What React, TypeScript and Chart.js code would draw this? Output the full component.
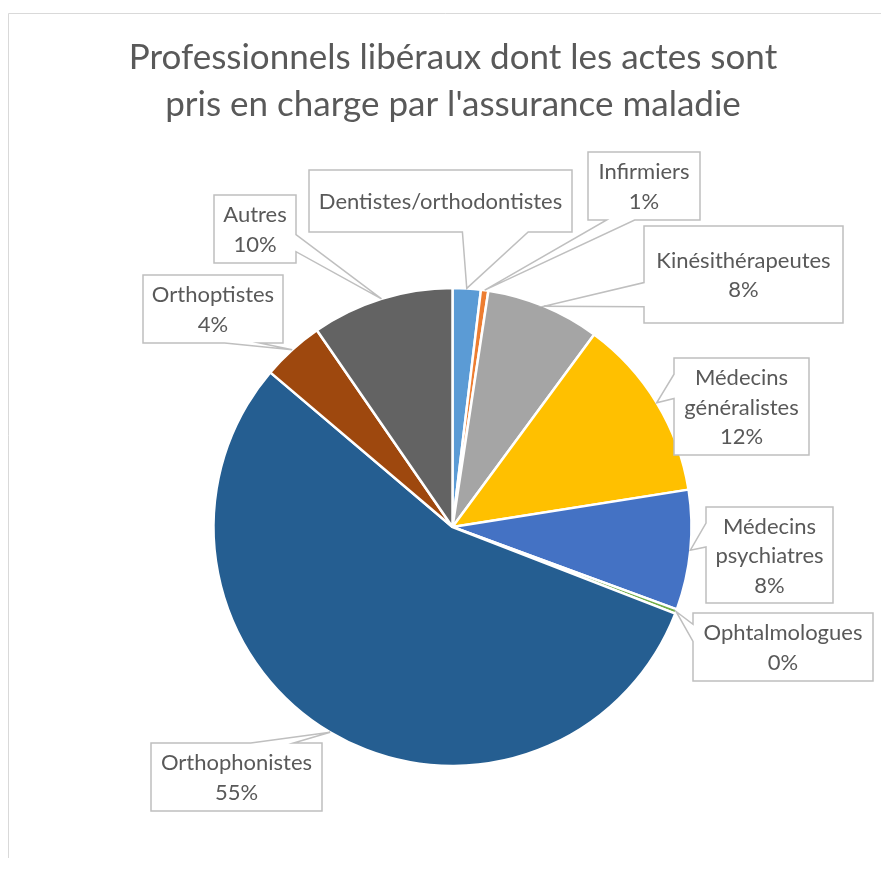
import { useEffect, useRef } from "react";
import { Chart, ArcElement, PieController } from "chart.js";

Chart.register(ArcElement, PieController);

const titleLines = ["Professionnels libéraux dont les actes sont", "pris en charge par l'assurance maladie"];
const categories = [
  "Dentistes/orthodontistes",
  "Infirmiers",
  "Kinésithérapeutes",
  "Médecins généralistes",
  "Médecins psychiatres",
  "Ophtalmologues",
  "Orthophonistes",
  "Orthoptistes",
  "Autres",
];
const values = [1.9, 0.5, 7.7, 12.4, 8.1, 0.3, 55.3, 4.2, 9.6];
const showPercent = [false, true, true, true, true, true, true, true, true];
const labelNameLines: string[][] = [
  ["Dentistes/orthodontistes"],
  ["Infirmiers"],
  ["Kinésithérapeutes"],
  ["Médecins", "généralistes"],
  ["Médecins", "psychiatres"],
  ["Ophtalmologues"],
  ["Orthophonistes"],
  ["Orthoptistes"],
  ["Autres"],
];
const colors = ["#5B9BD5", "#ED7D31", "#A5A5A5", "#FFC000", "#4472C4", "#70AD47", "#255E91", "#9E480E", "#636363"];

// layout of the callout boxes (x, y, w, h)
const labelBoxes = [
  [309, 170, 263, 62],
  [588, 152, 112, 68],
  [644, 226, 199, 97],
  [674, 358, 135, 97],
  [706, 507, 127, 96],
  [693, 613, 180, 68],
  [151, 743, 171, 68],
  [143, 275, 140, 68],
  [214, 195, 82, 68],
];

const TEXT = "#595959";
const FONT = "Lato, 'Noto Sans', sans-serif";

function calloutPath(ctx: CanvasRenderingContext2D, box: number[], tx: number, ty: number) {
  const [l, t, w, h] = box;
  const r = l + w, b = t + h;
  const hc = l + w / 2, vc = t + h / 2;
  const dx = tx - hc, dy = ty - vc;
  const dz = Math.abs(dy) - Math.abs((dx * h) / w);
  const x1 = l + (w * (dx > 0 ? 7 : 2)) / 12;
  const x2 = l + (w * (dx > 0 ? 10 : 5)) / 12;
  const y1 = t + (h * (dy > 0 ? 7 : 2)) / 12;
  const y2 = t + (h * (dy > 0 ? 10 : 5)) / 12;
  ctx.beginPath();
  ctx.moveTo(l, t);
  if (dz > 0 && dy < 0) {
    ctx.lineTo(x1, t); ctx.lineTo(tx, ty); ctx.lineTo(x2, t);
  }
  ctx.lineTo(r, t);
  if (dz <= 0 && dx > 0) {
    ctx.lineTo(r, y1); ctx.lineTo(tx, ty); ctx.lineTo(r, y2);
  }
  ctx.lineTo(r, b);
  if (dz > 0 && dy >= 0) {
    ctx.lineTo(x2, b); ctx.lineTo(tx, ty); ctx.lineTo(x1, b);
  }
  ctx.lineTo(l, b);
  if (dz <= 0 && dx <= 0) {
    ctx.lineTo(l, y2); ctx.lineTo(tx, ty); ctx.lineTo(l, y1);
  }
  ctx.closePath();
}

const decorPlugin = {
  id: "decor",
  beforeDraw(chart: any) {
    const ctx = chart.ctx as CanvasRenderingContext2D;
    ctx.save();
    ctx.fillStyle = "#ffffff";
    ctx.fillRect(0, 0, chart.width, chart.height);
    ctx.strokeStyle = "#d9d9d9";
    ctx.lineWidth = 1;
    ctx.beginPath();
    ctx.moveTo(8.5, 858);
    ctx.lineTo(8.5, 13.5);
    ctx.lineTo(chart.width + 2, 13.5);
    ctx.stroke();
    ctx.fillStyle = TEXT;
    ctx.font = `35px ${FONT}`;
    ctx.textAlign = "center";
    ctx.textBaseline = "middle";
    titleLines.forEach((line, i) => ctx.fillText(line, 453, 58 + i * 47));
    ctx.restore();
  },
  afterDatasetsDraw(chart: any) {
    const ctx = chart.ctx as CanvasRenderingContext2D;
    const meta = chart.getDatasetMeta(0);
    const data = chart.data.datasets[0].data as number[];
    const total = data.reduce((a, v) => a + v, 0);
    ctx.save();
    meta.data.forEach((arc: any, i: number) => {
      const mid = (arc.startAngle + arc.endAngle) / 2;
      const tx = arc.x + Math.cos(mid) * arc.outerRadius;
      const ty = arc.y + Math.sin(mid) * arc.outerRadius;
      const box = labelBoxes[i];
      calloutPath(ctx, box, tx, ty);
      ctx.fillStyle = "#ffffff";
      ctx.fill();
      ctx.strokeStyle = "#bfbfbf";
      ctx.lineWidth = 1.5;
      ctx.lineJoin = "miter";
      ctx.stroke();
      const lines = [...labelNameLines[i]];
      if (showPercent[i]) lines.push(`${Math.round((data[i] * 100) / total)}%`);
      ctx.fillStyle = TEXT;
      ctx.font = `22px ${FONT}`;
      ctx.textAlign = "center";
      ctx.textBaseline = "middle";
      const lh = 29.5;
      const cx = box[0] + box[2] / 2;
      const cy = box[1] + box[3] / 2;
      lines.forEach((ln, j) => {
        ctx.fillText(ln, cx, cy + (j - (lines.length - 1) / 2) * lh + 1);
      });
    });
    ctx.restore();
  },
};

export default function App() {
  const ref = useRef<HTMLCanvasElement | null>(null);
  useEffect(() => {
    if (!ref.current) return;
    const chart = new Chart(ref.current, {
      type: "pie",
      data: {
        labels: categories,
        datasets: [
          {
            data: values,
            backgroundColor: colors,
            borderColor: "#ffffff",
            borderWidth: 2.5,
          },
        ],
      },
      options: {
        responsive: false,
        animation: false,
        radius: 239,
        layout: { padding: { left: 212.5, right: 188.5, top: 287, bottom: 103 } },
        plugins: { legend: { display: false }, tooltip: { enabled: false }, title: { display: false } },
        events: [],
      } as any,
      plugins: [decorPlugin],
    });
    return () => chart.destroy();
  }, []);
  return (
    <div style={{ position: "fixed", left: 0, top: 0, width: 881, height: 870, background: "#fff" }}>
      <canvas ref={ref} width={881} height={870} style={{ display: "block", width: 881, height: 870 }} />
    </div>
  );
}
